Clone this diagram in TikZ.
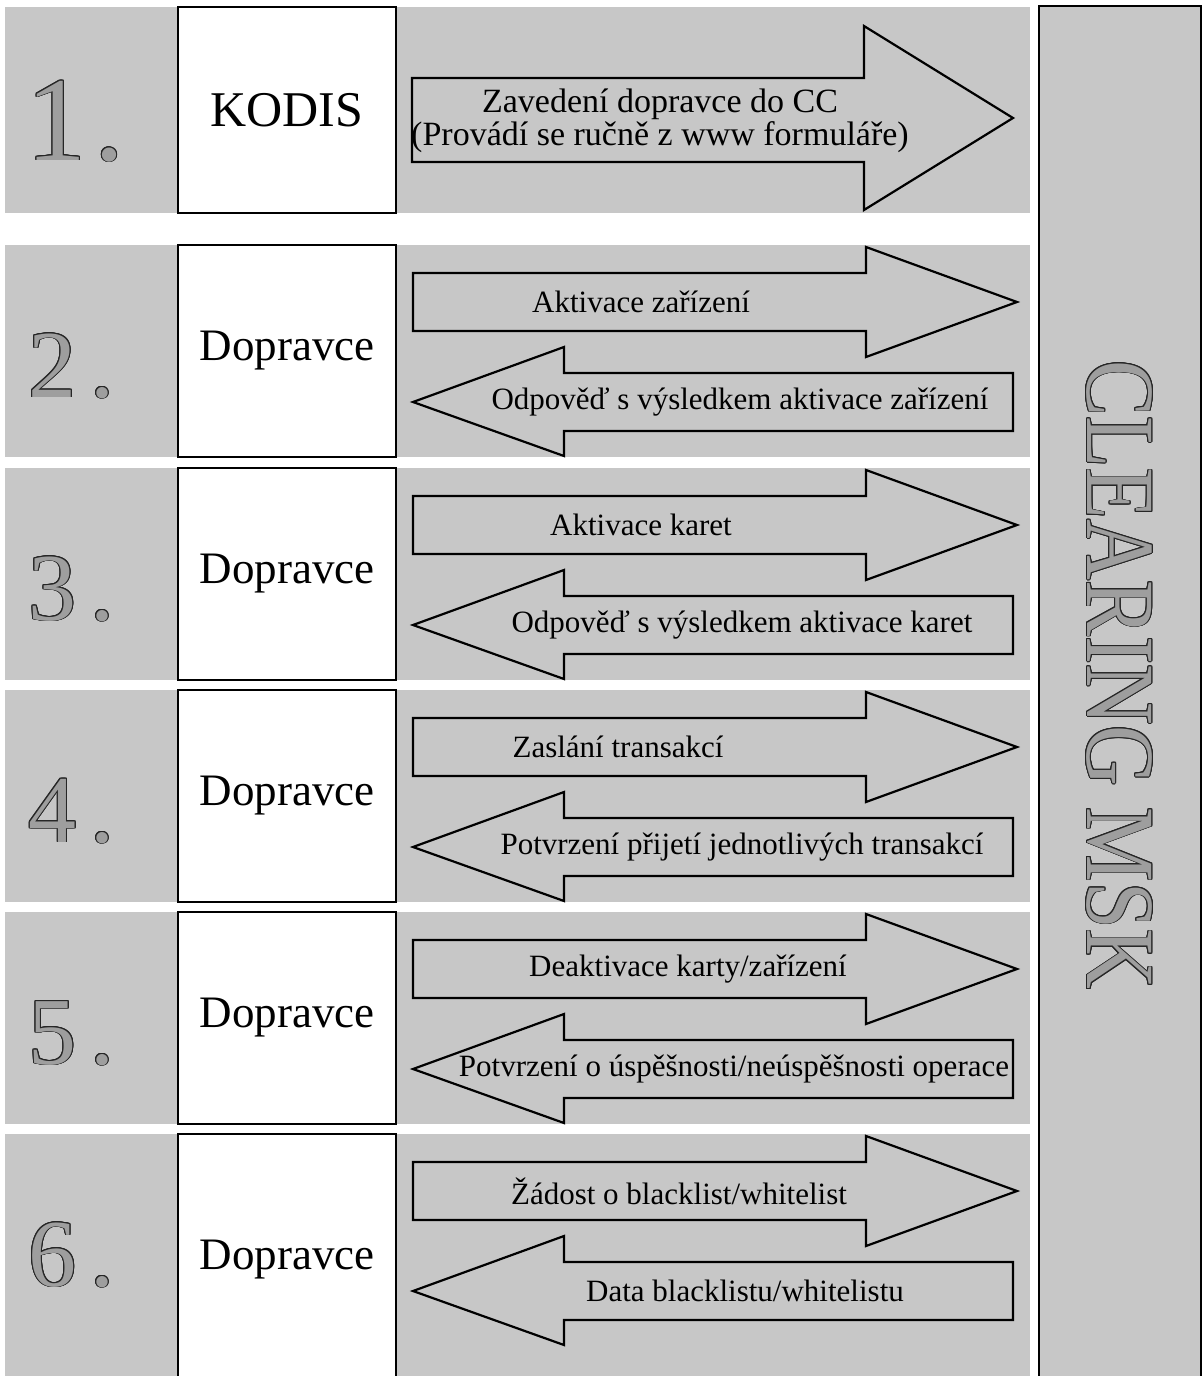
\documentclass[tikz,border=0pt]{standalone}
\usepackage{fontspec}
\usepackage{contour}
\setmainfont{Liberation Serif}
\contourlength{0.45pt}
\contournumber{16}
\definecolor{bandgray}{gray}{0.78}
\definecolor{numfill}{gray}{0.62}
\definecolor{numline}{gray}{0.15}
\tikzset{
  band/.style={fill=bandgray, draw=none},
  actor/.style={draw=black, line width=1.1pt, fill=white, minimum width=109pt, minimum height=#1, inner sep=0pt},
  actor/.default=106pt,
  arr/.style={draw=black, line width=1.1pt, fill=bandgray, line join=miter},
  lbl/.style={font=\fontsize{15.5}{18}\selectfont, inner sep=0pt},
  num/.style={font=\fontsize{48}{52}\selectfont, anchor=base west, inner sep=0pt},
}
\newcommand{\engr}[1]{{\color{numfill}\contour{numline}{#1}}}
% #1 index, #2 top, #3 band/box height (px), #4 upper label centre x, #5 upper label,
% #6 lower label centre x, #7 lower label
\newcommand{\flowrow}[7]{%
  \fill[band] (5,#2) rectangle (1030,#2+#3);
  \node[num] (n#1) at (28,#2+152) {\engr{#1\hspace{7pt}.}};
  \node[actor=#3*0.5pt, font=\fontsize{22.5}{26}\selectfont] (b#1) at (287,#2+#3/2) {Dopravce};
  \draw[arr] (413,#2+28) -- (866,#2+28) -- (866,#2+2) -- (1017,#2+57) -- (866,#2+112)
     -- (866,#2+86) -- (413,#2+86) -- cycle;
  \draw[arr] (413,#2+157) -- (564,#2+102) -- (564,#2+128) -- (1013,#2+128) -- (1013,#2+186)
     -- (564,#2+186) -- (564,#2+211) -- cycle;
  \node[lbl] (u#1) at (#4,#2+57) {#5};
  \node[lbl] (l#1) at (#6,#2+157) {#7};
}
\begin{document}
\begin{tikzpicture}[x=0.5pt,y=-0.5pt]
\useasboundingbox (0,0) rectangle (1204,1376);
\fill[white] (0,0) rectangle (1204,1376);
% row 1
\fill[band] (5,7) rectangle (1030,213);
\node[num, font=\fontsize{60}{64}\selectfont] (n1) at (26,160) {\engr{1\hspace{4pt}.}};
\node[actor=103pt, font=\fontsize{25}{28}\selectfont] (b1) at (287,110) {KODIS};
\draw[arr] (412,78) -- (864,78) -- (864,26) -- (1013,118) -- (864,210) -- (864,162) -- (412,162) -- cycle;
\node[lbl, font=\fontsize{17}{15}\selectfont, align=center] (u1) at (660,121)
  {Zavedení dopravce do CC\\(Provádí se ručně z www formuláře)};
% rows 2-6
\flowrow{2}{245}{212}{641}{Aktivace zařízení}{740}{Odpověď s výsledkem aktivace zařízení}
\flowrow{3}{468}{212}{641}{Aktivace karet}{742}{Odpověď s výsledkem aktivace karet}
\flowrow{4}{690}{212}{618}{Zaslání transakcí}{742}{Potvrzení přijetí jednotlivých transakcí}
\flowrow{5}{912}{212}{688}{Deaktivace karty/zařízení}{734}{Potvrzení o úspěšnosti/neúspěšnosti operace}
\flowrow{6}{1134}{252}{679}{Žádost o blacklist/whitelist}{745}{Data blacklistu/whitelistu}
% clearing
\node[draw=black, line width=1.1pt, fill=bandgray, minimum width=81pt, minimum height=690pt, inner sep=0pt] (cl) at (1120,696) {};
\node[rotate=-90, font=\fontsize{49}{52}\selectfont, inner sep=0pt] (clt) at (1119,675) {\scalebox{0.86}[1]{\engr{CLEARING MSK}}};
\end{tikzpicture}
\end{document}
